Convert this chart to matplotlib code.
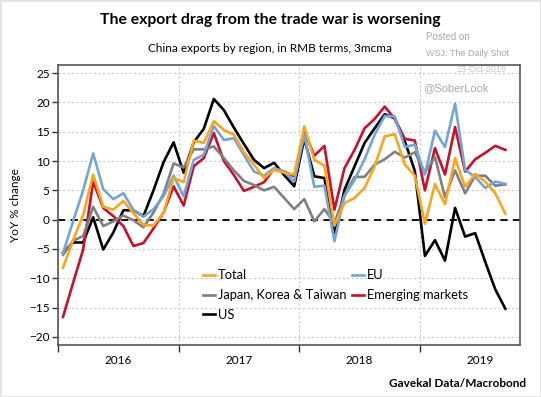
import numpy as np
import matplotlib
matplotlib.use("Agg")
import matplotlib.pyplot as plt
from matplotlib.ticker import FixedLocator, NullFormatter, FixedFormatter

plt.rcParams['font.family'] = ['Lato', 'DejaVu Sans']

# monthly data, Jan 2016 .. Sep 2019 (3mcma, YoY %)
start_year = 2016
total = [-8.2, -3.5, 0.8, 7.7, 2.2, 1.7, 3.2, 1.1, -0.9, -1.0, 1.1, 7.1,
         6.4, 13.5, 13.1, 16.8, 15.3, 14.5, 11.5, 9.4, 7.1, 8.5, 8.0, 7.7,
         15.9, 10.2, 9.2, -1.0, 2.8, 3.7, 5.4, 9.1, 14.2, 14.6, 9.4, 7.5,
         -0.7, 6.1, 2.6, 10.5, 5.6, 7.8, 6.5, 4.5, 1.0]
eu = [-5.7, -0.3, 5.0, 11.3, 5.2, 3.5, 4.5, 1.7, 0.5, 1.8, 4.0, 7.5,
      4.0, 10.2, 11.1, 16.0, 13.6, 13.9, 11.0, 8.2, 7.5, 8.8, 8.2, 6.5,
      14.5, 5.6, 5.8, -3.7, 4.0, 6.8, 10.3, 14.5, 17.7, 17.6, 12.4, 12.8,
      7.7, 15.2, 12.4, 19.8, 8.5, 7.3, 5.4, 6.5, 6.1]
jkt = [-6.0, -3.6, -2.8, 2.2, -1.1, -0.3, 0.7, -0.1, -1.3, 1.2, 4.4, 9.6,
       8.9, 12.0, 12.0, 12.5, 10.5, 8.4, 6.6, 5.9, 5.0, 5.6, 3.7, 1.8,
       3.5, -0.3, 1.8, -0.6, 4.2, 7.3, 7.3, 9.4, 10.3, 11.6, 10.6, 11.5,
       8.0, 10.7, 3.8, 8.4, 4.5, 7.5, 7.5, 5.8, 6.0]
em = [-16.6, -10.8, -5.1, 6.5, 2.0, 0.6, -1.1, -4.5, -4.0, -1.5, 1.2, 5.7,
      2.4, 9.1, 10.5, 14.8, 10.0, 7.6, 4.9, 5.6, 6.4, 8.7, 8.2, 7.4,
      15.1, 10.9, 12.6, 1.7, 8.8, 11.9, 15.6, 17.2, 19.3, 17.2, 13.8, 13.5,
      5.0, 12.2, 7.7, 15.8, 8.2, 10.3, 11.4, 12.6, 11.9]
us = [-5.6, -3.9, -3.9, 0.4, -5.1, -2.2, 1.6, 1.6, 0.6, 5.0, 9.8, 13.2,
      8.0, 13.2, 15.5, 20.6, 18.7, 15.7, 12.9, 10.2, 8.8, 9.7, 7.6, 5.7,
      13.8, 7.4, 7.1, -2.6, 5.1, 9.1, 13.1, 15.6, 18.0, 17.3, 13.4, 8.3,
      -6.2, -3.5, -7.0, 2.0, -2.9, -2.3, -7.2, -11.9, -15.2]
years = [2016, 2017, 2018, 2019]

x = start_year + (np.arange(len(total)) + 0.5) / 12.0

fig = plt.figure(figsize=(5.41, 3.97), dpi=100)
fig.patch.set_edgecolor('#e4e4e4')
fig.patch.set_linewidth(2)
ax = fig.add_axes([58/541, 1 - 345/397, 462/541, 280/397])

lw = 1.9
l_us, = ax.plot(x, us, color='black', lw=lw, label='US')
l_em, = ax.plot(x, em, color='#c8102e', lw=lw, label='Emerging markets')
l_jkt, = ax.plot(x, jkt, color='#808080', lw=lw, label='Japan, Korea & Taiwan')
l_eu, = ax.plot(x, eu, color='#74a5d8', lw=lw, label='EU')
l_tot, = ax.plot(x, total, color='#fba51e', lw=lw, label='Total')

ax.axhline(0, color='black', lw=1.3, ls=(0, (4, 3)), zorder=1)

ax.set_xlim(2016, 2019.83)
ax.set_ylim(-21.4, 26.4)
ax.set_yticks(np.arange(-20, 26, 5))
ax.xaxis.set_major_locator(FixedLocator(years))
ax.xaxis.set_major_formatter(NullFormatter())
ax.xaxis.set_minor_locator(FixedLocator([y + 0.5 for y in years]))
ax.xaxis.set_minor_formatter(FixedFormatter([str(y) for y in years]))
ax.tick_params(axis='x', which='major', length=5, width=1, color='#333333')
ax.tick_params(axis='x', which='minor', length=0, pad=7, labelsize=8.5)
ax.tick_params(axis='y', length=4, width=1, color='#333333', labelsize=8.5, pad=2)

ax.grid(True, which='major', color='#c8c8c8', ls=(0, (2, 2)), lw=0.8)
ax.set_axisbelow(True)
for s in ax.spines.values():
    s.set_color('#555555')
    s.set_linewidth(1.2)

ax.set_ylabel('YoY % change', fontsize=8.5, labelpad=6)

ax.legend([l_tot, l_jkt, l_us, l_eu, l_em],
          ['Total', 'Japan, Korea & Taiwan', 'US', 'EU', 'Emerging markets'],
          ncol=2, frameon=False, fontsize=9.3, handlelength=0.95, handletextpad=0.25,
          columnspacing=0.4, labelspacing=0.6, borderpad=0,
          loc='upper left', bbox_to_anchor=(0.299, 0.293))

fig.text(0.5, 0.95, 'The export drag from the trade war is worsening',
         ha='center', va='center', fontsize=11.3, fontweight='bold')
fig.text(0.5, 0.877, 'China exports by region, in RMB terms, 3mcma',
         ha='center', va='center', fontsize=8.5)

wm = '#a8a8a8'
fig.text(0.787, 0.908, 'Posted on', fontsize=7, color=wm, ha='left', va='center',
         family='Liberation Sans')
fig.text(0.787, 0.866, 'WSJ: The Daily Shot', fontsize=6.5, color=wm, ha='left',
         va='center', family='Liberation Sans')
fig.text(0.937, 0.826, '23-Oct-2019', fontsize=6.5, color='#c8c8c8', ha='right',
         va='center', family='Liberation Sans')
fig.text(0.782, 0.778, '@SoberLook', fontsize=8, color=wm, ha='left', va='center',
         family='Liberation Sans')

fig.text(0.972, 0.033, 'Gavekal Data/Macrobond', ha='right', va='center',
         fontsize=8.5, fontweight='bold')

fig.savefig('out.png', dpi=100)
